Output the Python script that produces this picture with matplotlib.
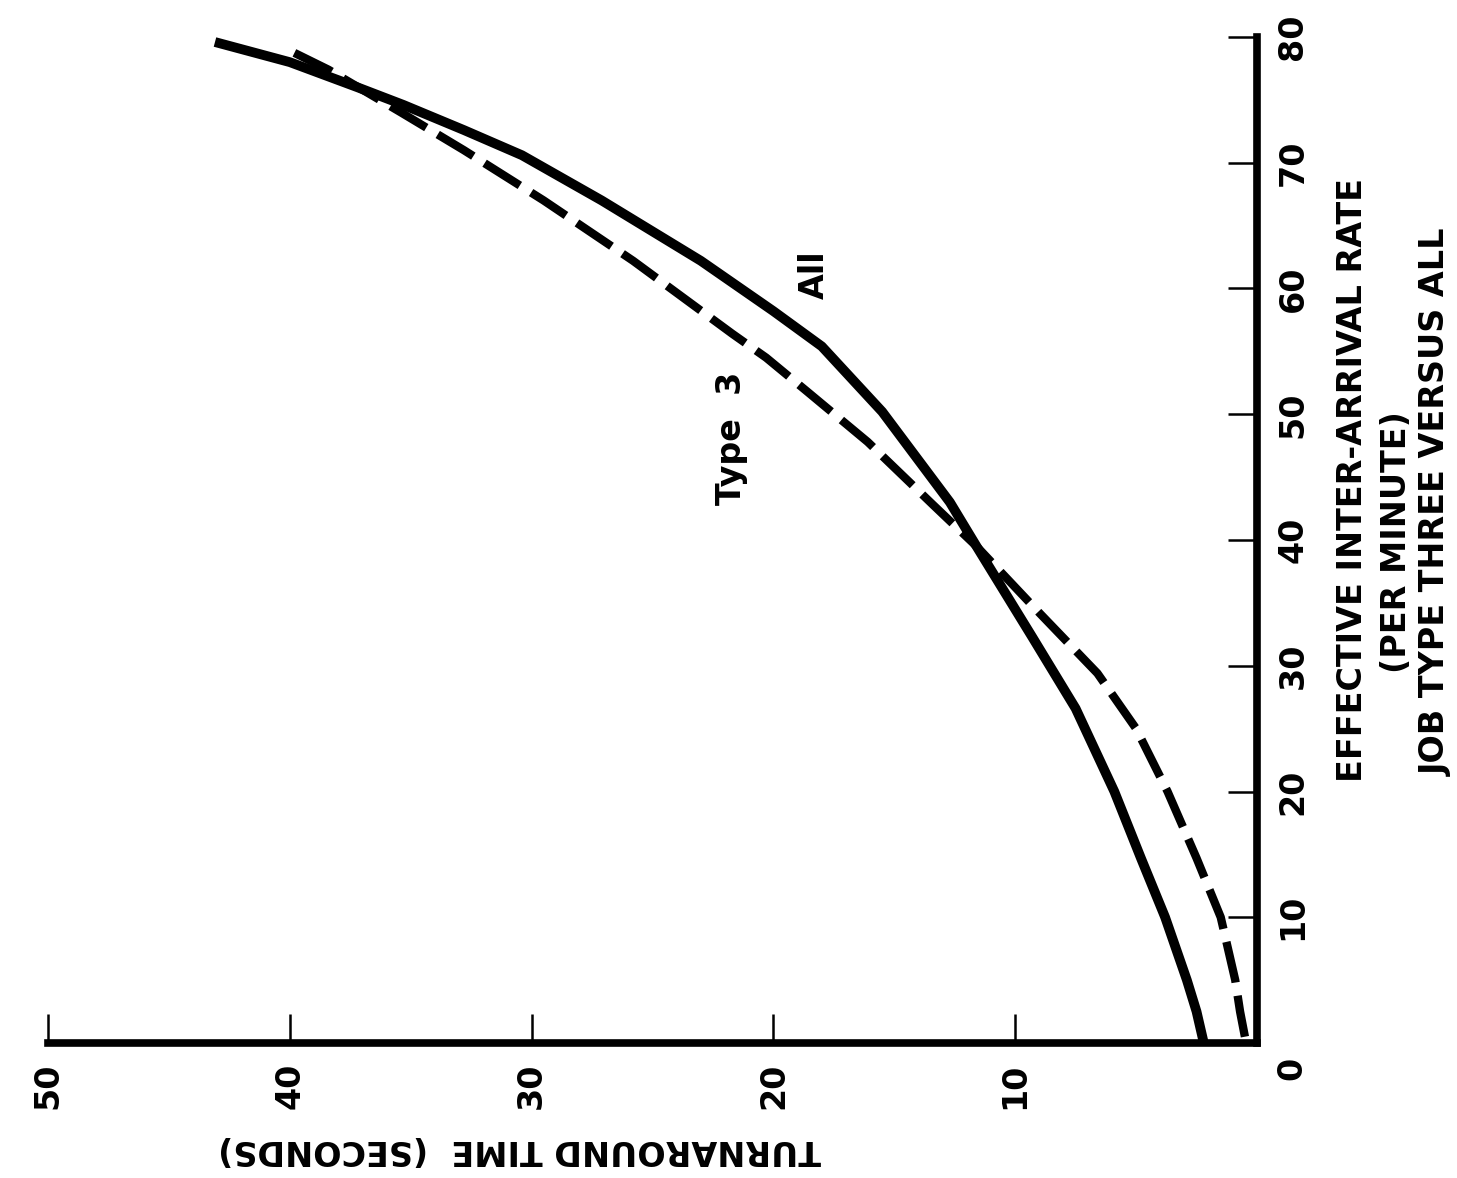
import matplotlib
matplotlib.use("Agg")
import matplotlib.pyplot as plt

# turnaround time (seconds) versus effective inter-arrival rate (per minute)
rate_all = [0, 2.5, 5, 10, 14.7, 20, 26.6, 32.3, 39.5, 43, 50.2, 55.4, 58.2,
            62.2, 67, 70.6, 72.6, 74.6, 76, 78, 79.5]
time_all = [2.2, 2.5, 2.9, 3.8, 4.8, 5.9, 7.5, 9.3, 11.6, 12.7, 15.5, 18.0, 20.0,
            23.0, 27.1, 30.4, 32.8, 35.3, 37.2, 40.0, 42.9]

rate_type3 = [0.5, 2.5, 5, 10, 14.7, 20, 25, 29.4, 34.2, 39.5, 42.8, 47.8, 51.8,
              54.5, 56.4, 62.2, 67, 71, 74, 77.4, 79.2]
time_type3 = [0.5, 0.7, 0.9, 1.5, 2.5, 3.7, 5.0, 6.6, 9.0, 11.6, 13.4, 16.1, 18.6,
              20.3, 21.7, 25.8, 29.5, 32.8, 35.4, 38.4, 40.3]

time_ticks = [50, 40, 30, 20, 10]
rate_ticks = [10, 20, 30, 40, 50, 60, 70, 80]

W, H = 1457, 1178
FS = 24
WT = "bold"

fig = plt.figure(figsize=(W / 100, H / 100), dpi=100)
fig.patch.set_facecolor("white")

# axes box in pixels: left 48, right 1257, top 37, bottom 1043
ax = fig.add_axes([48 / W, 1 - 1043 / H, (1257 - 48) / W, (1043 - 37) / H])

ax.plot(time_all, rate_all, color="black", lw=7, solid_joinstyle="round")
ax.plot(time_type3, rate_type3, color="black", lw=6, dashes=(5, 1.6))

ax.set_xlim(50, 0)
ax.set_ylim(0, 80)

for side in ["top", "left"]:
    ax.spines[side].set_visible(False)
for side in ["bottom", "right"]:
    ax.spines[side].set_linewidth(5.5)
    ax.spines[side].set_capstyle("projecting")

ax.yaxis.tick_right()
ax.set_xticks(time_ticks)
ax.set_xticklabels([str(t) for t in time_ticks], rotation=90, fontsize=FS,
                   fontweight=WT)
ax.set_yticks(rate_ticks)
ax.set_yticklabels([str(r) for r in rate_ticks], rotation=90, fontsize=FS,
                   fontweight=WT, va="center")
ax.tick_params(axis="x", direction="in", length=21, width=1.8, pad=14)
ax.tick_params(axis="y", direction="in", length=21, width=1.8, pad=14)

# shared origin label
fig.text(1292 / W, 1 - 1068 / H, "0", rotation=90, fontsize=FS, fontweight=WT,
         ha="center", va="center")

# axis titles (page is turned, so the time label reads upside down)
fig.text(520 / W, 1 - 1150 / H, "TURNAROUND TIME  (SECONDS)", rotation=180,
         fontsize=FS, fontweight=WT, ha="center", va="center")
fig.text(1353 / W, 1 - 480 / H, "EFFECTIVE INTER-ARRIVAL RATE", rotation=90,
         fontsize=FS, fontweight=WT, ha="center", va="center")
fig.text(1396 / W, 1 - 542 / H, "(PER MINUTE)", rotation=90,
         fontsize=FS, fontweight=WT, ha="center", va="center")
fig.text(1436 / W, 1 - 502 / H, "JOB TYPE THREE VERSUS ALL", rotation=90,
         fontsize=FS, fontweight=WT, ha="center", va="center")

# curve labels
fig.text(732 / W, 1 - 438 / H, "Type  3", rotation=90, fontsize=FS,
         fontweight=WT, ha="center", va="center")
fig.text(814 / W, 1 - 275 / H, "All", rotation=90, fontsize=FS,
         fontweight=WT, ha="center", va="center")

fig.savefig("out.png", dpi=100)
